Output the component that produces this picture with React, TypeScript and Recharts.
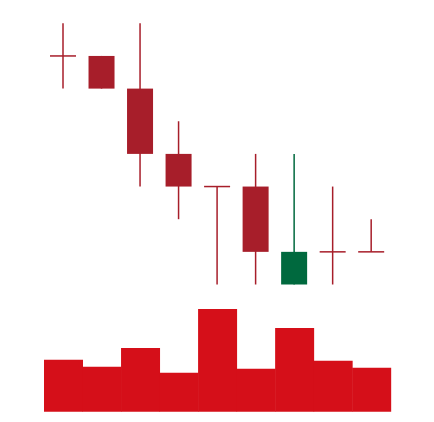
import { ComposedChart, BarChart, Bar, XAxis, YAxis, Cell } from 'recharts';

const days = ['1', '2', '3', '4', '5', '6', '7', '8', '9'];
const opens = [90, 90, 80, 60, 50, 50, 20, 30, 30];
const highs = [100, 90, 100, 70, 50, 60, 60, 50, 40];
const lows = [80, 80, 50, 40, 20, 20, 20, 20, 30];
const closes = [90, 80, 60, 50, 50, 30, 30, 30, 30];
const volumes = [52, 45, 64, 39, 103, 43, 84, 51, 44];

const UP = '#00693E';
const DOWN = '#A71E2A';
const VOL = '#D50F19';

const candles = days.map((d, i) => ({
  day: d,
  open: opens[i],
  close: closes[i],
  range: [lows[i], highs[i]],
}));

const volumeData = days.map((d, i) => ({ day: d, volume: volumes[i] }));

function Candle(props: any) {
  const { x, y, width, height, payload } = props;
  const [low, high] = payload.range;
  const top = Math.min(y, y + height);
  const h = Math.abs(height);
  const perUnit = h / (high - low);
  const toY = (v: number) => top + (high - v) * perUnit;
  const color = payload.close > payload.open ? UP : DOWN;
  const cx = x + width / 2;
  const bodyTop = toY(Math.max(payload.open, payload.close));
  const bodyBottom = toY(Math.min(payload.open, payload.close));
  return (
    <g>
      <line x1={cx} x2={cx} y1={top} y2={top + h} stroke={color} strokeWidth={1.5} />
      {bodyBottom - bodyTop < 1 ? (
        <line x1={x} x2={x + width} y1={bodyTop} y2={bodyTop} stroke={color} strokeWidth={1.5} />
      ) : (
        <rect x={x} y={bodyTop} width={width} height={bodyBottom - bodyTop} fill={color} />
      )}
    </g>
  );
}

export default function App() {
  return (
    <div style={{ position: 'absolute', left: 0, top: 0, width: 434, height: 422, background: '#fff' }}>
      <div style={{ position: 'absolute', left: 0, top: 0 }}>
        <ComposedChart
          width={434}
          height={300}
          data={candles}
          margin={{ top: 23.3, right: 43.3, bottom: 15.5, left: 44 }}
        >
          <XAxis dataKey="day" hide />
          <YAxis domain={[20, 100]} hide />
          <Bar dataKey="range" barSize={26} shape={<Candle />} isAnimationActive={false} />
        </ComposedChart>
      </div>
      <div style={{ position: 'absolute', left: 0, top: 300 }}>
        <BarChart
          width={434}
          height={122}
          data={volumeData}
          barCategoryGap={0}
          margin={{ top: 9, right: 43.3, bottom: 10.3, left: 44 }}
        >
          <XAxis dataKey="day" hide />
          <YAxis domain={[0, 103]} hide />
          <Bar dataKey="volume" isAnimationActive={false}>
            {volumeData.map((_, i) => (
              <Cell key={i} fill={VOL} />
            ))}
          </Bar>
        </BarChart>
      </div>
    </div>
  );
}
